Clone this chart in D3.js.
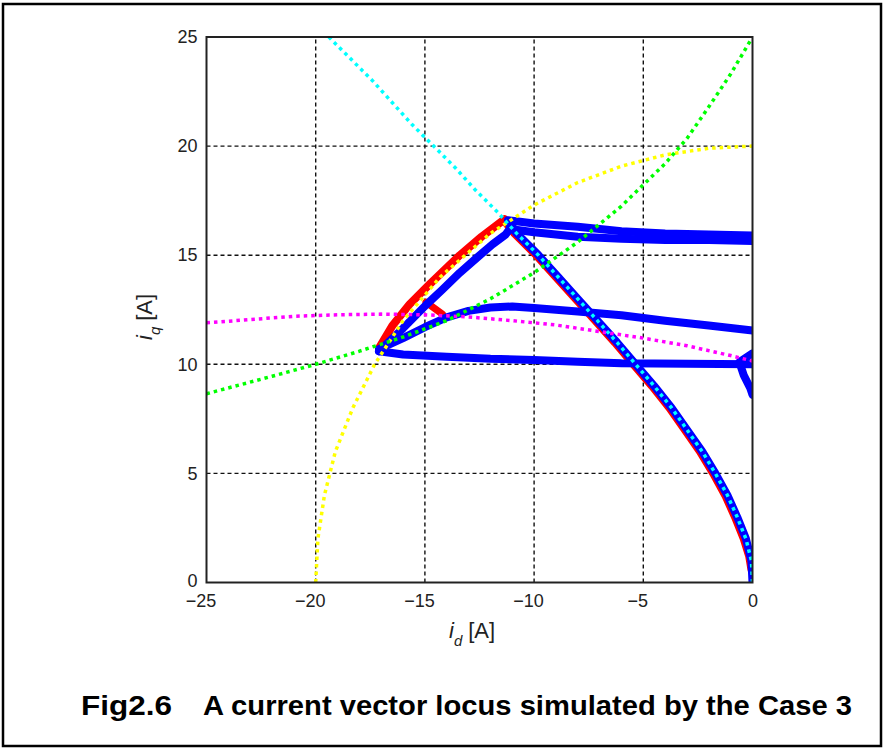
<!DOCTYPE html>
<html><head><meta charset="utf-8">
<script src="https://cdn.jsdelivr.net/npm/d3@7"></script>
<style>body{margin:0;background:#fff}svg{display:block}</style>
</head><body>
<script>
// ---- data (id, iq) ----
const xTicks = [-25, -20, -15, -10, -5, 0];
const yTicks = [0, 5, 10, 15, 20, 25];

const yellowCircle = [[-20,0],[-19.9,2],[-19.6,4],[-19.1,6],[-18.3,8],[-17.3,10],[-16,12],[-14.3,14],[-12,16],[-10,17.3],[-8,18.33],[-6,19.08],[-4,19.6],[-2,19.9],[0,20]];
const cyanCurve = [[0,0],[-0.05,1],[-0.3,2],[-0.7,3],[-1.15,4],[-1.7,5],[-2.3,6],[-3.0,7],[-3.7,8],[-4.5,9],[-5.35,10],[-6.2,11],[-7.1,12],[-8.0,13],[-8.9,14],[-9.8,15],[-10.8,16],[-11.7,17],[-12.7,18],[-13.6,19],[-14.6,20],[-15.6,21],[-16.5,22],[-17.4,23],[-18.4,24],[-19.4,25]];
const magentaCurve = [[-25,11.9],[-23,12.05],[-21,12.2],[-19,12.27],[-17,12.3],[-15,12.27],[-13,12.17],[-11,12.0],[-9,11.8],[-7,11.5],[-5,11.2],[-3,10.85],[-1,10.4],[0,10.15]];
const greenCurve = [[-25,8.65],[-22,9.45],[-20,10.0],[-18,10.6],[-16,11.25],[-14,12.0],[-12,13.0],[-10,14.2],[-8,15.6],[-6,17.25],[-4,19.2],[-3,20.35],[-2,21.8],[-1,23.3],[0,25.0]];

const redOuter = [[-17.1,10.75],[-16.5,11.75],[-15.7,12.75],[-14.8,13.65],[-13.4,15.0],[-12.4,15.85],[-11.35,16.65]];
const redShort = [[-14.95,12.85],[-14.2,12.3]];
const redDiagonal = [[-11.3,16.5],[-10.9,16.0],[-9.9,15.0],[-9.0,14.0],[-8.1,13.0],[-7.2,12.0],[-6.3,11.0],[-5.45,10.0],[-4.6,9.0],[-3.8,8.0],[-3.1,7.0],[-2.4,6.0],[-1.8,5.0],[-1.25,4.0],[-0.8,3.0],[-0.4,2.0],[-0.15,1.2],[-0.05,0.6]];

const blueBottom = [[-17.1,10.6],[-16,10.45],[-14,10.35],[-12,10.25],[-10,10.2],[-8,10.12],[-6,10.05],[-3,10.02],[0,10.0]];
const blueHook = [[0,10.5],[-0.6,10.1],[-0.4,9.5],[-0.1,8.9],[0,8.6]];
const blueMiddle = [[-17.1,10.7],[-16,11.2],[-15,11.7],[-14,12.15],[-13,12.45],[-12,12.6],[-11,12.65],[-10,12.58],[-8,12.42],[-6,12.25],[-4,12.0],[-2,11.78],[0,11.55]];
const blueInner = [[-17.1,10.6],[-16,11.65],[-14.95,12.72],[-14.2,13.42],[-13.4,14.2],[-12.6,14.9],[-11.9,15.5],[-11.3,15.95],[-11.0,16.35]];
const blueTopA = [[-11.2,16.6],[-10,16.45],[-8,16.3],[-6,16.1],[-4,16.0],[-2,15.95],[0,15.9]];
const blueTopB = [[-11.1,16.2],[-10,16.05],[-8,15.85],[-6,15.75],[-4,15.7],[-2,15.7],[0,15.65]];
const blueDiagonal = [[-11.2,16.5],[-10.8,16],[-9.8,15],[-8.9,14],[-8.0,13],[-7.1,12],[-6.2,11],[-5.35,10],[-4.5,9],[-3.7,8],[-3.0,7],[-2.3,6],[-1.7,5],[-1.15,4],[-0.7,3],[-0.3,2],[-0.05,1],[0,0]];

const figLabel = "Fig2.6";
const captionText = "A current vector locus simulated by the Case 3";

// ---- drawing ----
const W = 883, H = 749;
const FONT = "Liberation Sans, Arial, sans-serif";
const svg = d3.select("body").append("svg").attr("width", W).attr("height", H);
svg.append("rect").attr("x", 3).attr("y", 4).attr("width", 878).attr("height", 742)
  .attr("fill", "#fff").attr("stroke", "#000").attr("stroke-width", 2.5);

const x = d3.scaleLinear().domain([-25, 0]).range([206.5, 752.5]);
const y = d3.scaleLinear().domain([0, 25]).range([582.5, 37]);

const plot = svg.append("g");
plot.append("defs").append("clipPath").attr("id", "clip").append("rect")
  .attr("x", x(-25)).attr("y", y(25)).attr("width", x(0) - x(-25)).attr("height", y(0) - y(25));

// grid
const grid = plot.append("g").attr("stroke", "#111").attr("stroke-width", 1.4).attr("stroke-dasharray", "4,3");
xTicks.slice(1, -1).forEach(t => grid.append("line").attr("x1", x(t)).attr("x2", x(t)).attr("y1", y(0)).attr("y2", y(25)));
yTicks.slice(1, -1).forEach(t => grid.append("line").attr("x1", x(-25)).attr("x2", x(0)).attr("y1", y(t)).attr("y2", y(t)));

const line = d3.line().x(d => x(d[0])).y(d => y(d[1]));
const curves = plot.append("g").attr("clip-path", "url(#clip)").attr("fill", "none");

function draw(data, color, width, dash) {
  const p = curves.append("path").datum(data).attr("d", line)
    .attr("stroke", color).attr("stroke-width", width).attr("stroke-linejoin", "round");
  if (dash) p.attr("stroke-dasharray", dash).attr("stroke-linecap", "butt");
  else p.attr("stroke-linecap", "round");
}
// red underneath
draw(redOuter, "#ff0000", 8);
draw(redShort, "#ff0000", 7);
draw(redDiagonal, "#ff0000", 8);
// blue
[blueBottom, blueHook, blueMiddle, blueInner, blueTopA, blueTopB, blueDiagonal].forEach(d => draw(d, "#0000ff", 8));
// dotted reference curves
draw(yellowCircle, "#ffff00", 3.5, "3.5,4");
draw(magentaCurve, "#ff00ff", 3.5, "3.5,4");
draw(greenCurve, "#00ff00", 3.5, "3.5,4");
draw(cyanCurve, "#00ffff", 3.5, "3.5,4");

// axes box
plot.append("rect").attr("x", x(-25)).attr("y", y(25)).attr("width", x(0) - x(-25)).attr("height", y(0) - y(25))
  .attr("fill", "none").attr("stroke", "#222").attr("stroke-width", 2);

const fmt = v => (v < 0 ? "\u2212" + Math.abs(v) : String(v));
const axB = d3.axisBottom(x).tickValues(xTicks).tickFormat(fmt).tickSize(0).tickPadding(12);
const gx = svg.append("g").attr("transform", `translate(0,${y(0)})`).call(axB);
gx.select(".domain").remove();
gx.selectAll("text").attr("font-family", FONT).attr("font-size", 18).attr("fill", "#222")
  .attr("dx", d => (d < 0 ? -6 : 0));

const axL = d3.axisLeft(y).tickValues(yTicks).tickFormat(fmt).tickSize(0).tickPadding(9);
const gy = svg.append("g").attr("transform", `translate(${x(-25)},0)`).call(axL);
gy.select(".domain").remove();
gy.selectAll("text").attr("font-family", FONT).attr("font-size", 18).attr("fill", "#222")
  .attr("dy", d => (d === 0 ? "0.2em" : "0.32em"));

// axis labels
const xl = svg.append("text").attr("x", 449).attr("y", 638)
  .attr("font-family", FONT).attr("font-size", 22).attr("fill", "#222");
xl.append("tspan").attr("font-style", "italic").text("i");
xl.append("tspan").attr("font-size", 15).attr("dy", 8).attr("font-style", "italic").text("d");
xl.append("tspan").attr("dy", -8).attr("dx", 6).text("[A]");

const yl = svg.append("text").attr("transform", "translate(152,340) rotate(-90)")
  .attr("font-family", FONT).attr("font-size", 22).attr("fill", "#222");
yl.append("tspan").attr("font-style", "italic").text("i");
yl.append("tspan").attr("font-size", 15).attr("dy", 8).attr("font-style", "italic").text("q");
yl.append("tspan").attr("dy", -8).attr("dx", 6).text("[A]");

// caption
const cap = svg.append("g").attr("font-family", FONT).attr("font-weight", "bold").attr("font-size", 27).attr("fill", "#000");
cap.append("text").attr("x", 81).attr("y", 715).attr("textLength", 91).attr("lengthAdjust", "spacingAndGlyphs").text(figLabel);
cap.append("text").attr("x", 203).attr("y", 715).attr("textLength", 649).attr("lengthAdjust", "spacingAndGlyphs").text(captionText);
</script>
</body></html>
